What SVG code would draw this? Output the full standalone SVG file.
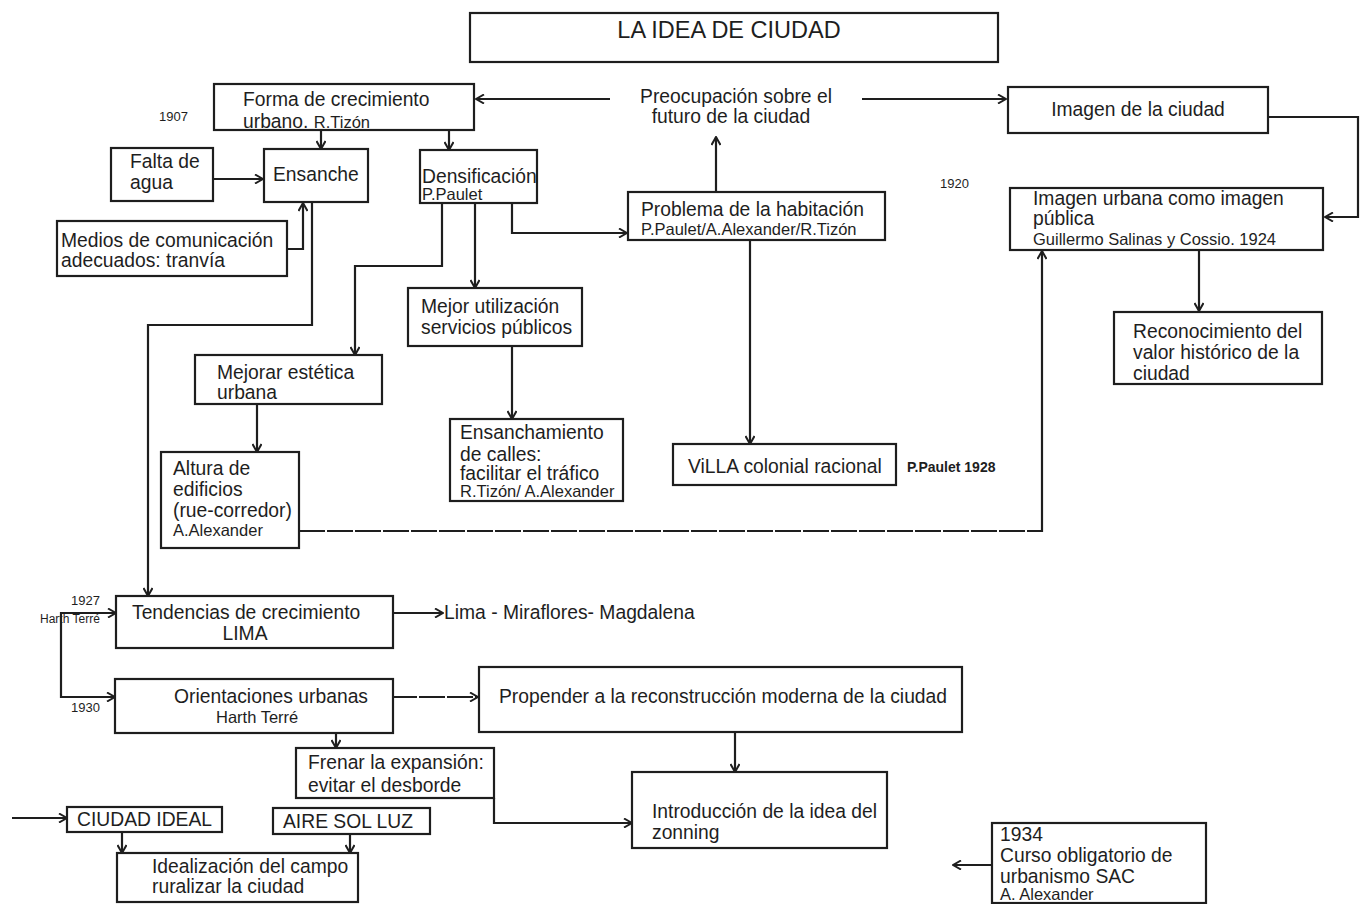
<svg xmlns="http://www.w3.org/2000/svg" width="1360" height="904" viewBox="0 0 1360 904">
<defs>
<marker id="ah" viewBox="0 0 10 10" refX="9" refY="5" markerWidth="10" markerHeight="10" markerUnits="userSpaceOnUse" orient="auto-start-reverse">
<path d="M1,0.5 L9,5 L1,9.5" fill="none" stroke="#1e1e1e" stroke-width="2"/>
</marker>
<style>
rect{fill:#fff;stroke:#1e1e1e;stroke-width:2.2}
text{font-family:"Liberation Sans",Arial,sans-serif;font-size:19.3px;fill:#1e1e1e}
.s{font-size:16.5px}
.y{font-size:13px}
.h{font-size:12px}
.b{font-size:14px;font-weight:bold}
.t{font-size:23.5px}
.c path{fill:none;stroke:#1e1e1e;stroke-width:2.2}
.a{marker-end:url(#ah)}
.d{stroke-dasharray:26 2}
</style>
</defs>
<rect width="1360" height="904" style="fill:#fff;stroke:none"/>

<g class="c" id="connectors">
<path class="a" d="M610,99 H476"/>
<path class="a" d="M862,99 H1006"/>
<path class="a" d="M1268,117 H1358 V217 H1325"/>
<path class="a" d="M1199,250 V311"/>
<path class="a" d="M716,192 V137"/>
<path class="a" d="M321,130 V149"/>
<path class="a" d="M449,130 V150"/>
<path class="a" d="M213,179 H263"/>
<path class="a" d="M287,249 H303 V203"/>
<path class="a" d="M312,202 V325 H148 V596"/>
<path class="a" d="M442,203 V266 H355 V355"/>
<path class="a" d="M475,203 V288"/>
<path class="a" d="M512,203 V233 H627"/>
<path class="a" d="M512,346 V419"/>
<path class="a" d="M750,240 V444"/>
<path class="a" d="M257,404 V452"/>
<path class="d" d="M299,531 H1042"/>
<path class="a" d="M1042,532 V251"/>
<path class="a" d="M393,613 H443"/>
<path class="a" d="M116,613 H61 V697 H115" style="marker-start:url(#ah)"/>
<path class="a d" d="M391,697 H478"/>
<path class="a" d="M336,733 V748"/>
<path class="a" d="M735,732 V772"/>
<path class="a" d="M494,798 V823 H632"/>
<path class="a" d="M12,818 H67"/>
<path class="a" d="M122,832 V853"/>
<path class="a" d="M350,834 V853"/>
<path class="a" d="M992,865 H953"/>
</g>

<g id="title"><rect x="470" y="13" width="528" height="49"/><text class="t" x="729" y="38" text-anchor="middle">LA IDEA DE CIUDAD</text></g>

<g id="forma"><rect x="214" y="84" width="260" height="46"/><text x="243" y="106">Forma de crecimiento</text><text x="243" y="128">urbano. <tspan class="s">R.Tizón</tspan></text></g>
<g id="y1907"><text class="y" x="159" y="121">1907</text></g>

<g id="preocupacion"><text x="736" y="103" text-anchor="middle">Preocupación sobre el</text><text x="731" y="123" text-anchor="middle">futuro de la ciudad</text></g>

<g id="imagen"><rect x="1008" y="87" width="260" height="46"/><text x="1138" y="116" text-anchor="middle">Imagen de la ciudad</text></g>

<g id="y1920"><text class="y" x="940" y="188">1920</text></g>

<g id="imagenurbana"><rect x="1010" y="188" width="313" height="62"/><text x="1033" y="205">Imagen urbana como imagen</text><text x="1033" y="225">pública</text><text class="s" x="1033" y="245">Guillermo Salinas y Cossio. 1924</text></g>

<g id="reconocimiento"><rect x="1114" y="312" width="208" height="72"/><text x="1133" y="338">Reconocimiento del</text><text x="1133" y="359">valor histórico de la</text><text x="1133" y="380">ciudad</text></g>

<g id="falta"><rect x="111" y="148" width="102" height="53"/><text x="130" y="168">Falta de</text><text x="130" y="189">agua</text></g>

<g id="ensanche"><rect x="264" y="149" width="104" height="53"/><text x="273" y="181">Ensanche</text></g>

<g id="densificacion"><rect x="420" y="150" width="117" height="53"/><text x="422" y="183">Densificación</text><text class="s" x="422" y="200">P.Paulet</text></g>

<g id="medios"><rect x="57" y="221" width="230" height="55"/><text x="61" y="247">Medios de comunicación</text><text x="61" y="267">adecuados: tranvía</text></g>

<g id="problema"><rect x="628" y="192" width="257" height="48"/><text x="641" y="216">Problema de la habitación</text><text class="s" x="641" y="235">P.Paulet/A.Alexander/R.Tizón</text></g>

<g id="mejor"><rect x="408" y="288" width="174" height="58"/><text x="421" y="313">Mejor utilización</text><text x="421" y="334">servicios públicos</text></g>

<g id="mejorar"><rect x="195" y="355" width="187" height="49"/><text x="217" y="379">Mejorar estética</text><text x="217" y="399">urbana</text></g>

<g id="ensanchamiento"><rect x="450" y="419" width="173" height="82"/><text x="460" y="439">Ensanchamiento</text><text x="460" y="461">de calles:</text><text x="460" y="480">facilitar el tráfico</text><text class="s" x="460" y="497">R.Tizón/ A.Alexander</text></g>

<g id="villa"><rect x="673" y="444" width="223" height="41"/><text x="688" y="473">ViLLA colonial racional</text></g>
<g id="paulet1928"><text class="b" x="907" y="472">P.Paulet 1928</text></g>

<g id="altura"><rect x="161" y="452" width="138" height="96"/><text x="173" y="475">Altura de</text><text x="173" y="496">edificios</text><text x="173" y="517">(rue-corredor)</text><text class="s" x="173" y="536">A.Alexander</text></g>

<g id="tendencias"><rect x="116" y="596" width="277" height="52"/><text x="132" y="619">Tendencias de crecimiento</text><text x="245" y="640" text-anchor="middle">LIMA</text></g>
<g id="lima"><text x="444" y="619">Lima - Miraflores- Magdalena</text></g>
<g id="y1927"><text class="y" x="71" y="605">1927</text><text class="h" x="40" y="623">Harth Terré</text></g>
<g id="y1930"><text class="y" x="71" y="712">1930</text></g>

<g id="orientaciones"><rect x="115" y="679" width="278" height="54"/><text x="174" y="703">Orientaciones urbanas</text><text class="s" x="216" y="723">Harth Terré</text></g>

<g id="propender"><rect x="479" y="667" width="483" height="65"/><text x="499" y="703">Propender a la reconstrucción moderna de la ciudad</text></g>

<g id="frenar"><rect x="296" y="748" width="198" height="50"/><text x="308" y="769">Frenar la expansión:</text><text x="308" y="792">evitar el desborde</text></g>

<g id="introduccion"><rect x="632" y="772" width="255" height="76"/><text x="652" y="818">Introducción de la idea del</text><text x="652" y="839">zonning</text></g>

<g id="ciudadideal"><rect x="67" y="807" width="155" height="25"/><text x="77" y="826">CIUDAD IDEAL</text></g>

<g id="airesolluz"><rect x="273" y="808" width="157" height="26"/><text x="283" y="828">AIRE SOL LUZ</text></g>

<g id="idealizacion"><rect x="117" y="853" width="241" height="49"/><text x="152" y="873">Idealización del campo</text><text x="152" y="893">ruralizar la ciudad</text></g>

<g id="curso"><rect x="992" y="823" width="214" height="80"/><text x="1000" y="841">1934</text><text x="1000" y="862">Curso obligatorio de</text><text x="1000" y="883">urbanismo SAC</text><text class="s" x="1000" y="900">A. Alexander</text></g>
</svg>
